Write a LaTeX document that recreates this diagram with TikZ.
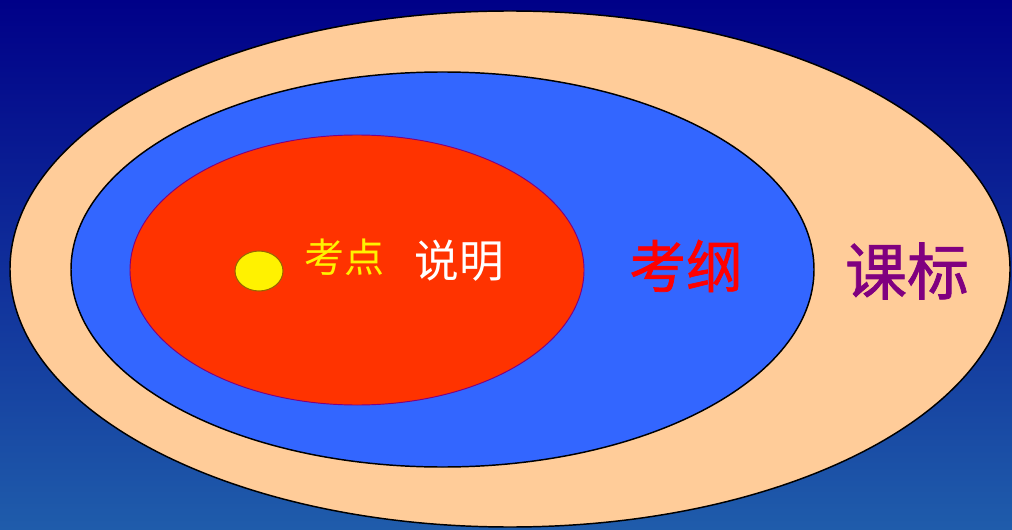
\documentclass[tikz,border=0pt]{standalone}
\usepackage{fontspec}
\newfontfamily\cjk{Noto Sans CJK SC}
\newfontfamily\cjkb{Noto Sans CJK SC}[FakeBold=1.2]
\usetikzlibrary{shapes.geometric}
\definecolor{peach}{HTML}{FFCC99}
\definecolor{midblue}{HTML}{3366FF}
\definecolor{redfill}{HTML}{FF3300}
\definecolor{bordpurple}{HTML}{800080}
\definecolor{yellowbord}{HTML}{996600}
\definecolor{bgtop}{HTML}{000088}
\definecolor{bgmid}{HTML}{001890}
\definecolor{bgbot}{HTML}{1F5CAB}
\begin{document}
\begin{tikzpicture}[x=0.75pt,y=0.75pt,
  oval/.style={ellipse, inner sep=0pt, outer sep=0pt},
  lbl/.style={inner sep=0pt}]
\useasboundingbox (0,0) rectangle (1012,529);
\shade[top color=bgtop, middle color=bgmid, bottom color=bgbot] (0,0) rectangle (1012,529);
\node[oval, fill=peach, draw=black, line width=1.1pt, minimum width=750pt, minimum height=387pt] (kebiao) at (510,260) {};
\node[oval, fill=midblue, draw=black, line width=1.1pt, minimum width=557.25pt, minimum height=296.25pt] (kaogang) at (442.5,259.5) {};
\node[oval, fill=redfill, draw=bordpurple, line width=0.7pt, minimum width=340.5pt, minimum height=202.5pt] (shuoming) at (357,259) {};
\node[oval, fill=yellow, draw=yellowbord, line width=0.8pt, minimum width=36pt, minimum height=30pt] (kaodian) at (259,258) {};
\node[lbl, text=yellow, font=\cjk\fontsize{30}{30}\selectfont] (t1) at (344,272) {考点};
\node[lbl, text=white, font=\cjk\fontsize{33.5}{33.5}\selectfont] (t2) at (459,268) {说明};
\node[lbl, text=red, font=\cjkb\fontsize{42.5}{42.5}\selectfont] (t3) at (686,263) {考纲};
\node[lbl, text=bordpurple, font=\cjkb\fontsize{46.5}{46.5}\selectfont] (t4) at (907,258) {课标};
\end{tikzpicture}
\end{document}
